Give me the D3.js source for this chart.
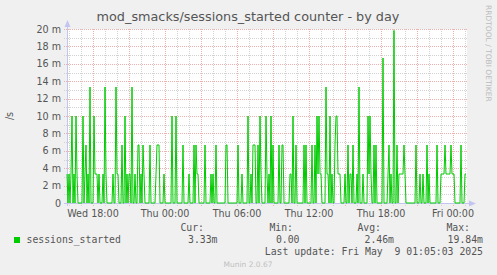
<!DOCTYPE html>
<html><head><meta charset="utf-8">
<script src="https://cdn.jsdelivr.net/npm/d3@7"></script>
<style>html,body{margin:0;padding:0;background:#f0f0f0;}svg{display:block}</style>
</head><body><svg id="c" width="497" height="275"></svg>
<script>
const title = "mod_smacks/sessions_started counter - by day";
const yAxisLabel = "/s";
const seriesName = "sessions_started";
const seriesColor = "#00cc00";
const startTime = Date.UTC(2025, 4, 7, 15, 50); // Wed 15:50, first 5-minute sample
const stepMinutes = 5;
// sessions started per second, in milli (m) units, one value per 5-minute sample
const values = [
  3.33,0,3.33,0,3.33,10,0,3.33,0,10,
  3.33,0,0,0,0,0,10,0,3.33,6.67,
  0,3.33,0,13.33,0,0,0,10,3.33,3.33,
  3.33,0,3.33,0,0,0,3.33,0,13.33,3.33,
  0,0,0,0,0,0,3.33,0,0,13.33,
  3.33,3.33,0,0,0,6.67,0,0,10,0,
  3.33,0,3.33,3.33,0,13.33,0,0,3.33,0,
  0,6.67,6.67,0,3.33,0,6.67,3.33,0,0,
  0,0,0,6.67,0,0,0,0,0,3.33,
  6.67,6.67,6.67,0,0,0,0,3.33,0,0,
  0,0,0,0,0,10,0,0,0,10,
  0,0,0,0,0,0,6.67,0,0,0,
  0,0,3.33,0,0,0,0,6.67,0,6.67,
  3.33,3.33,0,0,0,0,0,0,6.67,0,
  0,0,0,0,3.33,0,3.33,0,0,6.67,
  0,0,0,0,0,0,0,0,0,6.67,
  6.67,0,0,0,0,0,0,0,0,0,
  0,6.67,0,0,0,3.33,0,0,0,0,
  0,10,0,0,3.33,0,6.67,6.67,6.67,0,
  0,6.67,0,10,3.33,0,0,0,0,10,
  3.33,0,3.33,0,10,0,6.67,0,0,0,
  0,0,6.67,0,0,6.67,6.67,0,0,0,
  0,0,0,3.33,3.33,0,10,0,0,6.67,
  0,0,0,0,0,0,0,6.67,0,6.67,
  0,0,0,0,0,6.67,0,0,6.67,0,
  10,3.33,10,3.33,3.33,0,0,0,0,13.33,
  3.33,3.33,0,10,0,3.33,0,0,6.67,10,
  10,3.33,3.33,3.33,0,0,0,0,3.33,0,
  0,6.67,0,3.33,3.33,0,6.67,0,0,0,
  3.33,0,13.33,0,0,0,3.33,0,0,0,
  0,10,3.33,10,3.33,0,0,6.67,0,6.67,
  0,0,0,0,0,0,16.67,0,0,0,
  0,3.33,6.67,0,3.33,0,0,19.84,0,0,
  6.67,0,3.33,3.33,3.33,3.33,3.33,6.67,3.33,0,
  0,0,0,0,0,0,0,0,0,6.67,
  0,0,0,3.33,0,0,3.33,0,0,0,
  6.67,0,3.33,0,0,0,0,0,0,0,
  6.67,0,0,0,3.33,3.33,3.33,3.33,6.67,3.33,
  3.33,3.33,3.33,3.33,6.67,3.33,3.33,3.33,0,0,
  0,0,0,0,6.67,0,0,0,3.33,3.33
];
const yTicks = [0, 2, 4, 6, 8, 10, 12, 14, 16, 18, 20];
const yTickLabels = ["0", "2 m", "4 m", "6 m", "8 m", "10 m", "12 m", "14 m", "16 m", "18 m", "20 m"];
const xTickTimes = [
  Date.UTC(2025, 4, 7, 18), Date.UTC(2025, 4, 8, 0), Date.UTC(2025, 4, 8, 6),
  Date.UTC(2025, 4, 8, 12), Date.UTC(2025, 4, 8, 18), Date.UTC(2025, 4, 9, 0)
];
const xTickLabels = ["Wed 18:00", "Thu 00:00", "Thu 06:00", "Thu 12:00", "Thu 18:00", "Fri 00:00"];
const legendHeaders = ["Cur:", "Min:", "Avg:", "Max:"];
const legendValues = ["3.33m", "0.00", "2.46m", "19.84m"];
const lastUpdate = "Last update: Fri May  9 01:05:03 2025";
const footer = "Munin 2.0.67";
const sideText = "RRDTOOL / TOBI OETIKER";

const svg = d3.select("#c");
const L = 67, R = 467, T = 29, B = 203;
const stepMs = stepMinutes * 60000;
const data = values.map((v, i) => ({t: new Date(startTime + i * stepMs), v}));
const x = d3.scaleUtc().domain([new Date(startTime), new Date(startTime + values.length * stepMs)]).range([L, R]);
const y = d3.scaleLinear().domain([0, 20]).range([B, T]);

svg.append("rect").attr("width", 497).attr("height", 275).attr("fill", "#f0f0f0");
svg.append("rect").attr("x", L).attr("y", T).attr("width", R - L).attr("height", B - T).attr("fill", "#ffffff");

const grid = svg.append("g").attr("shape-rendering", "crispEdges");
const minorCol = "#d2d2d2", majorCol = "#efb0b0";
// horizontal grid
d3.range(0, 21, 1).forEach(v => {
  if (v === 0) return;
  const yy = Math.round(y(v)) + 0.5;
  grid.append("line").attr("x1", L - 3).attr("x2", R).attr("y1", yy).attr("y2", yy)
    .attr("stroke", v % 2 === 0 ? majorCol : minorCol).attr("stroke-dasharray", "1,1");
});
// vertical grid
const hours = d3.utcHour.range(x.domain()[0], x.domain()[1]);
hours.forEach(h => {
  const xx = Math.round(x(h)) + 0.5;
  if (xx <= L) return;
  const major = h.getUTCHours() % 3 === 0;
  grid.append("line").attr("x1", xx).attr("x2", xx).attr("y1", T).attr("y2", B + 3)
    .attr("stroke", major ? majorCol : minorCol).attr("stroke-dasharray", "1,1");
});

// axes lines with arrows
const axisCol = "#c4c4f0";
svg.append("line").attr("x1", L + 0.5).attr("x2", L + 0.5).attr("y1", B + 3).attr("y2", T - 6)
  .attr("stroke", axisCol).attr("shape-rendering", "crispEdges");
svg.append("line").attr("x1", L - 3).attr("x2", R + 3).attr("y1", B + 0.5).attr("y2", B + 0.5)
  .attr("stroke", axisCol).attr("shape-rendering", "crispEdges");
svg.append("path").attr("d", `M${L - 2.5},${T - 2} L${L + 0.5},${T - 9} L${L + 3.5},${T - 2} Z`).attr("fill", axisCol);
svg.append("path").attr("d", `M${R + 2},${B - 2.5} L${R + 9},${B + 0.5} L${R + 2},${B + 3.5} Z`).attr("fill", axisCol);

// series line
const line = d3.line().x(d => x(d.t)).y(d => y(d.v));
svg.append("path").datum(data).attr("d", line).attr("fill", "none")
  .attr("stroke", seriesColor).attr("stroke-width", 1);

const sans = "DejaVu Sans, sans-serif";
const mono = "DejaVu Sans Mono, monospace";
// y labels
yTicks.forEach((v, i) => {
  svg.append("text").attr("x", 61).attr("y", y(v) + 3.5).attr("text-anchor", "end")
    .attr("font-family", sans).attr("font-size", 9.6).attr("fill", "#555").text(yTickLabels[i]);
});
// x labels
xTickTimes.forEach((t, i) => {
  svg.append("text").attr("x", x(new Date(t))).attr("y", 216.5).attr("text-anchor", "middle")
    .attr("font-family", sans).attr("font-size", 9.6).attr("fill", "#555").text(xTickLabels[i]);
});
// title
svg.append("text").attr("x", 248).attr("y", 20.5).attr("text-anchor", "middle")
  .attr("font-family", sans).attr("font-size", 12.8).attr("fill", "#555").text(title);
// y axis label
svg.append("text").attr("transform", "translate(13,116) rotate(-90)").attr("text-anchor", "middle")
  .attr("font-family", sans).attr("font-size", 9.6).attr("fill", "#555").text(yAxisLabel);
// side text
svg.append("text").attr("transform", "translate(486,5) rotate(90)").attr("text-anchor", "start")
  .attr("font-family", sans).attr("font-size", 7.5).attr("fill", "#bbbbbb").text(sideText);

// legend
svg.append("rect").attr("x", 14).attr("y", 237).attr("width", 6).attr("height", 6).attr("fill", seriesColor);
svg.append("text").attr("x", 26.5).attr("y", 243).attr("font-family", mono).attr("font-size", 9.8)
  .attr("fill", "#555").text(seriesName);
const headerX = [204, 293, 381, 470];
const valueX = [217.5, 299.5, 394, 483];
legendHeaders.forEach((h, i) => {
  svg.append("text").attr("x", headerX[i]).attr("y", 231).attr("text-anchor", "end")
    .attr("font-family", mono).attr("font-size", 9.8).attr("fill", "#555").text(h);
  svg.append("text").attr("x", valueX[i]).attr("y", 243).attr("text-anchor", "end")
    .attr("font-family", mono).attr("font-size", 9.8).attr("fill", "#555").text(legendValues[i]);
});
svg.append("text").attr("x", 483).attr("y", 255).attr("text-anchor", "end")
  .attr("font-family", mono).attr("font-size", 9.8).attr("fill", "#555")
  .attr("xml:space", "preserve").style("white-space", "pre").text(lastUpdate);
svg.append("text").attr("x", 248).attr("y", 267).attr("text-anchor", "middle")
  .attr("font-family", sans).attr("font-size", 7.5).attr("fill", "#c0c0c0").text(footer);
</script></body></html>
